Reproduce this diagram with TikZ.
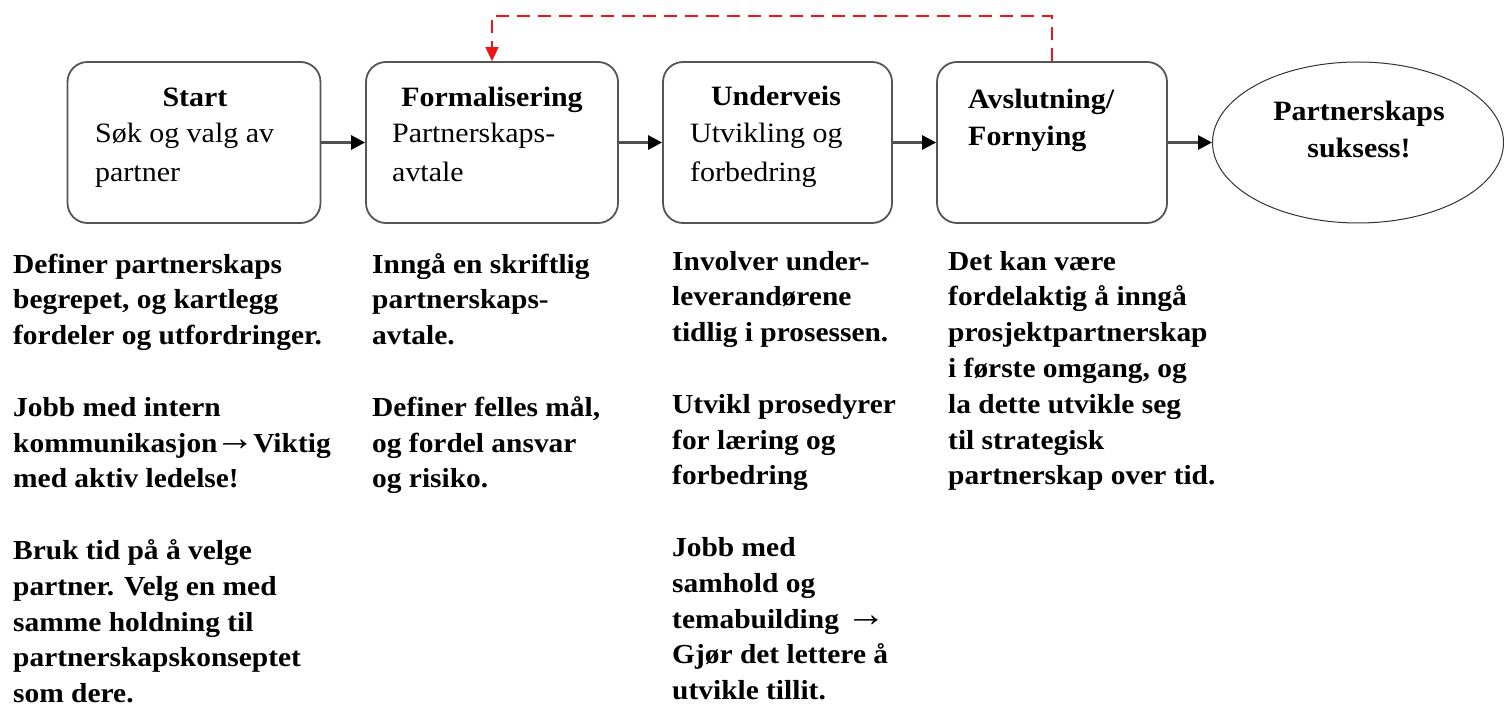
\documentclass[tikz,border=0pt]{standalone}
\usepackage{fontspec}
\setmainfont{Liberation Serif}
\newfontfamily\diafont[FakeStretch=1.07]{Liberation Serif}
\usetikzlibrary{arrows.meta,shapes.geometric}
\definecolor{boxgray}{RGB}{85,85,85}
\definecolor{arrowgray}{RGB}{80,80,80}
\definecolor{fbred}{RGB}{240,20,20}
\newcommand{\bigarr}{\raisebox{1.5pt}{\scalebox{1.35}{→}}}
\tikzset{
  stagebox/.style={draw=boxgray, line width=1.8pt, rounded corners=20pt, minimum width=#1, minimum height=161pt, inner sep=0pt},
  goal/.style={draw=black!80, line width=1pt, ellipse, minimum width=291pt, minimum height=161pt, inner sep=0pt},
  flow/.style={draw=arrowgray, line width=2.8pt, -{Triangle[length=14pt,width=14pt,color=black]}},
  feedback/.style={draw=fbred, line width=1.5pt, dash pattern=on 13pt off 8pt, -{Triangle[length=14pt,width=13pt,color=fbred]}},
  boxtitle/.style={inner sep=0pt, font={\diafont\bfseries\fontsize{28}{39}\selectfont}},
  boxbody/.style={inner sep=0pt, align=left, anchor=north west, font={\diafont\fontsize{28}{39}\selectfont}},
  notes/.style={inner sep=0pt, align=left, anchor=north west, font={\diafont\bfseries\fontsize{27.5}{35.8}\selectfont}},
}
\begin{document}
\begin{tikzpicture}[x=1pt,y=-1pt]
\useasboundingbox (0,0) rectangle (1504,711);
% boxes
\node[stagebox=253pt] (b1) at (194,142.5) {};
\node[stagebox=252pt] (b2) at (492,142.5) {};
\node[stagebox=229pt] (b3) at (777.5,142.5) {};
\node[stagebox=230pt] (b4) at (1052,142.5) {};
\node[goal] (goal) at (1358,142.5) {};
% box texts
\node[boxtitle, anchor=base] (t1) at (195,107) {Start};
\node[boxbody] (s1) at (95,114.7) {\strut Søk og valg av\\partner};
\node[boxtitle, anchor=base] (t2) at (492,107) {Formalisering};
\node[boxbody] (s2) at (392,114.7) {\strut Partnerskaps-\\avtale};
\node[boxtitle, anchor=base] (t3) at (776,106) {Underveis};
\node[boxbody] (s3) at (690,114.7) {\strut Utvikling og\\forbedring};
\node[boxbody, font={\diafont\bfseries\fontsize{28}{37}\selectfont}] (t4) at (968,82.1) {\strut Avslutning/\\Fornying};
\node[inner sep=0pt, align=center, anchor=north, font={\diafont\bfseries\fontsize{28}{37}\selectfont}] (tg) at (1359,94.1) {\strut Partnerskaps\\suksess!};
% flow arrows
\draw[flow] (b1.east) -- (b2.west);
\draw[flow] (b2.east) -- (b3.west);
\draw[flow] (b3.east) -- (b4.west);
\draw[flow] (b4.east) -- (goal.west);
% feedback
\draw[feedback] (b4.north) -- ++(0,-45) -| (b2.north);
% notes
\node[notes] (n1) at (13,247.9) {\strut Definer partnerskaps\\begrepet, og kartlegg\\fordeler og utfordringer.\\[35.8pt]Jobb med intern\\kommunikasjon\kern-2pt\bigarr\kern-2pt Viktig\\med aktiv ledelse!\\[35.8pt]Bruk tid på å velge\\partner. Velg en med\\samme holdning til\\partnerskapskonseptet\\som dere.};
\node[notes] (n2) at (372,247.9) {\strut Inngå en skriftlig\\partnerskaps-\\avtale.\\[35.8pt]Definer felles mål,\\og fordel ansvar\\og risiko.};
\node[notes] (n3) at (672,244.9) {\strut Involver under-\\leverandørene\\tidlig i prosessen.\\[35.8pt]Utvikl prosedyrer\\for læring og\\forbedring\\[35.8pt]Jobb med\\samhold og\\temabuilding \bigarr\\Gjør det lettere å\\utvikle tillit.};
\node[notes] (n4) at (948,244.9) {\strut Det kan være\\fordelaktig å inngå\\prosjektpartnerskap\\i første omgang, og\\la dette utvikle seg\\til strategisk\\partnerskap over tid.};
\end{tikzpicture}
\end{document}
